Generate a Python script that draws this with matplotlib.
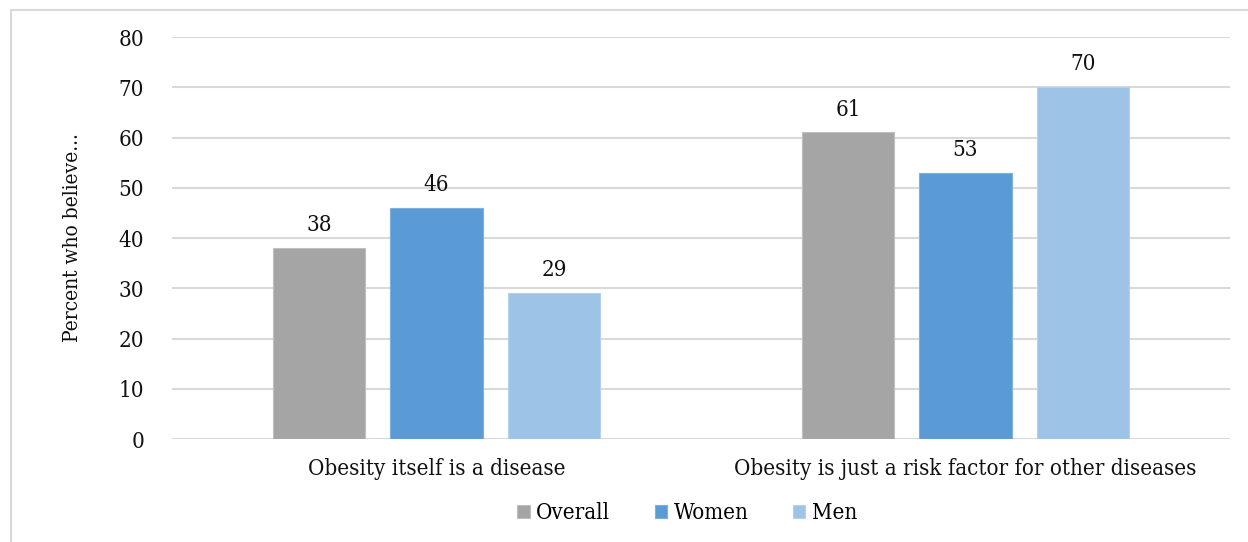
import numpy as np
import matplotlib
matplotlib.use("Agg")
import matplotlib.pyplot as plt
from matplotlib.patches import Rectangle

categories = ["Obesity itself is a disease", "Obesity is just a risk factor for other diseases"]
series = ["Overall", "Women", "Men"]
overall = [38, 61]
women = [46, 53]
men = [29, 70]
yticks = [0, 10, 20, 30, 40, 50, 60, 70, 80]

colors = ["#A5A5A5", "#5B9BD5", "#9DC3E6"]
edges = ["#BFBFBF", "#7EB0DE", "#B4D2EC"]

plt.rcParams["font.family"] = ["DejaVu Serif"]
plt.rcParams["font.stretch"] = "condensed"

fig = plt.figure(figsize=(12.48, 5.42), dpi=100)
# outer chart border
fig.patches.append(Rectangle((11 / 1248, -0.01), 1.0, 1 - 10 / 542 + 0.01,
                             transform=fig.transFigure, fill=False,
                             edgecolor="#D9D9D9", linewidth=1.5))

ax = fig.add_axes([172 / 1248, 1 - 439 / 542, (1230 - 172) / 1248, (439 - 37) / 542])

x = np.arange(len(categories))
width = 0.174
step = 0.222
for i, (name, vals) in enumerate(zip(series, [overall, women, men])):
    pos = x + (i - 1) * step
    bars = ax.bar(pos, vals, width, color=colors[i], edgecolor=edges[i],
                  linewidth=0.8, label=name, zorder=3)
    for b, v in zip(bars, vals):
        ax.annotate(str(v), (b.get_x() + b.get_width() / 2, v),
                    xytext=(0, 8.5), textcoords="offset points",
                    ha="center", va="bottom", fontsize=16, color="#111111")

ax.set_xlim(-0.5, 1.5)
ax.set_ylim(0, 80)
ax.set_yticks(yticks)
ax.set_xticks(x)
ax.set_xticklabels(categories, fontsize=16)
ax.tick_params(axis="y", length=0, pad=20, labelsize=16, labelcolor="#111111")
ax.tick_params(axis="x", length=0, pad=14, labelcolor="#111111")
ax.yaxis.grid(True, color="#D9D9D9", linewidth=1.5, zorder=0)
ax.set_axisbelow(True)
for s in ax.spines.values():
    s.set_visible(False)

ax.set_ylabel("Percent who believe...", fontsize=15, labelpad=26, color="#111111")

ax.legend(loc="center", bbox_to_anchor=(0.487, -0.185), ncol=3, frameon=False,
          fontsize=16, handlelength=0.55, handleheight=0.55, handletextpad=0.3,
          columnspacing=2.0)

fig.savefig("out.png", dpi=100)
